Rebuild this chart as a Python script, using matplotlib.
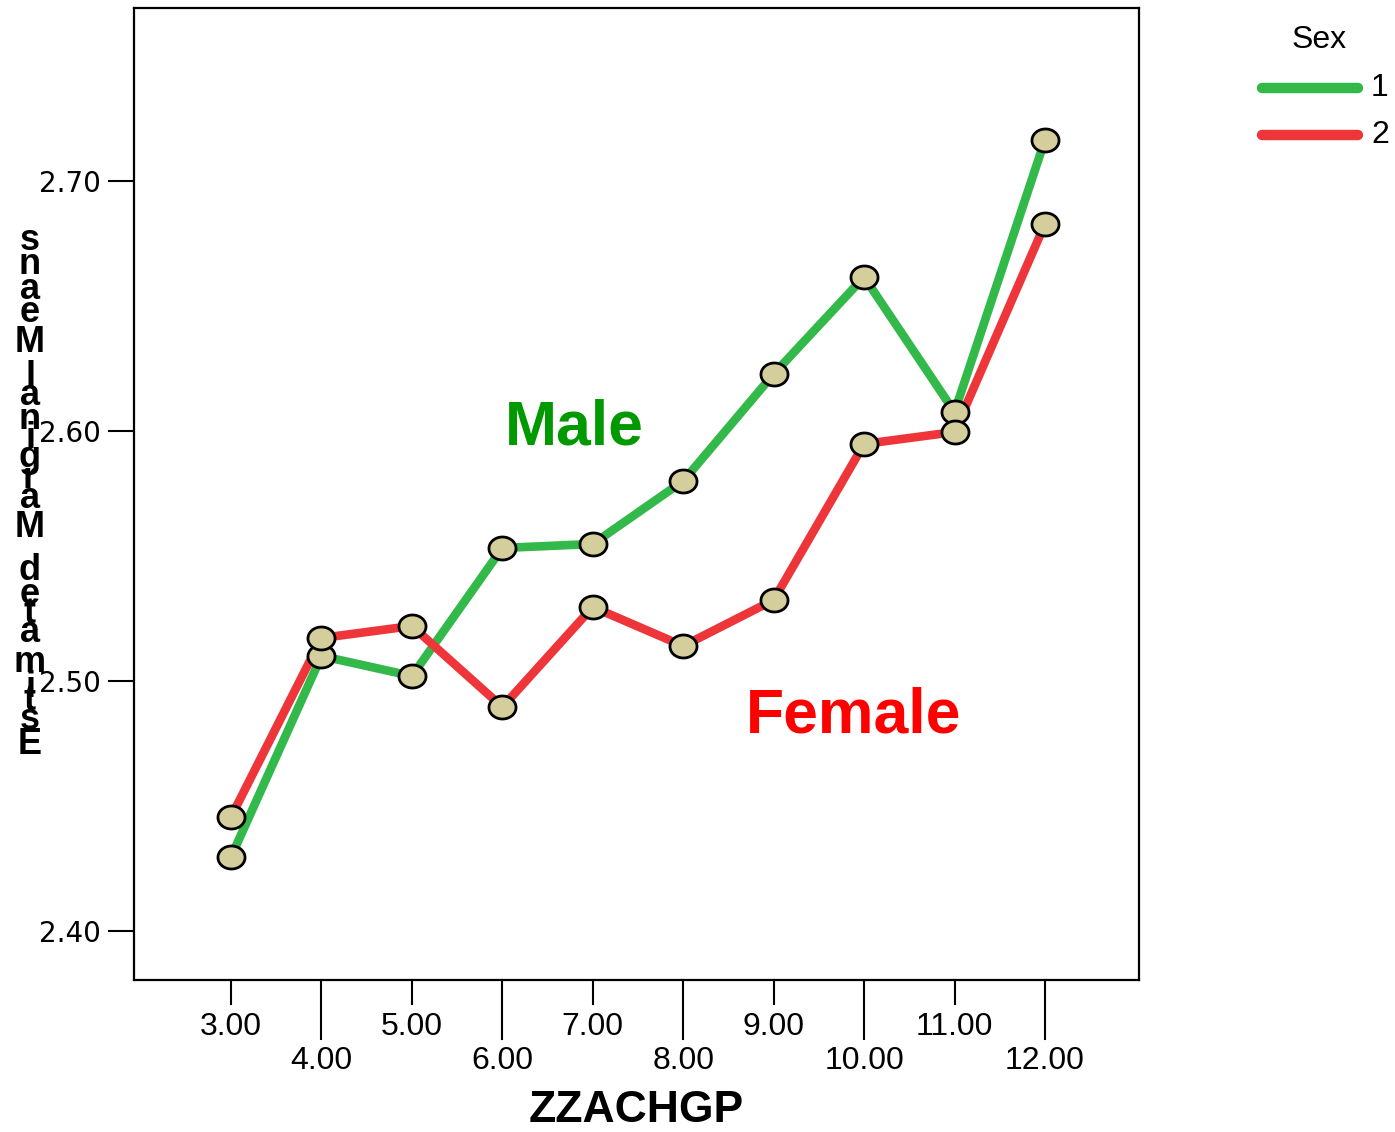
import matplotlib
matplotlib.use("Agg")
import matplotlib.pyplot as plt
import numpy as np
from matplotlib.path import Path
from matplotlib.lines import Line2D

# データ
groups = [3, 4, 5, 6, 7, 8, 9, 10, 11, 12]
tick_labels = ["3.00", "4.00", "5.00", "6.00", "7.00", "8.00", "9.00", "10.00", "11.00", "12.00"]
male = [2.4296, 2.5100, 2.5020, 2.5532, 2.5548, 2.5800, 2.6228, 2.6616, 2.6076, 2.7164]
female = [2.4456, 2.5172, 2.5220, 2.4896, 2.5296, 2.5140, 2.5324, 2.5948, 2.5996, 2.6828]
series_names = ["1", "2"]
y_ticks = [2.40, 2.50, 2.60, 2.70]

green = "#33B84A"
red = "#EE3539"
marker_face = "#D4CE9C"

fig = plt.figure(figsize=(13.95, 11.32), dpi=100)
ax = fig.add_axes([134 / 1395, 1 - 980 / 1132, (1139 - 134) / 1395, (980 - 8) / 1132])

# 楕円マーカー
t = np.linspace(0, 2 * np.pi, 60)
ellipse = Path(np.column_stack([np.cos(t), 0.85 * np.sin(t)]), closed=True)

ax.plot(groups, male, color=green, lw=6.2, solid_joinstyle="round", zorder=2)
ax.plot(groups, female, color=red, lw=6.2, solid_joinstyle="round", zorder=3)
for vals in (male, female):
    ax.plot(groups, vals, ls="none", marker=ellipse, ms=19.5, mfc=marker_face,
            mec="black", mew=2, zorder=4)

ax.set_xlim(1.927, 13.04)
ax.set_ylim(2.3804, 2.7692)

for s in ax.spines.values():
    s.set_linewidth(1.6)

# y軸
ax.set_yticks(y_ticks)
ax.set_yticklabels([f"{v:.2f}" for v in y_ticks], fontsize=20, family="DejaVu Sans")
ax.tick_params(axis="y", length=18.5, width=1.5, pad=5)

# x軸（長短交互の目盛り）
ax.set_xticks(groups)
ax.set_xticklabels([])
ax.tick_params(axis="x", length=0)
trans = ax.get_xaxis_transform()
for i, (g, lab) in enumerate(zip(groups, tick_labels)):
    long_tick = i % 2 == 1
    ax.plot([g, g], [0, -(59 if long_tick else 24) / 972], color="black", lw=1.5,
            transform=trans, clip_on=False)
    ypos = -(81 if long_tick else 47) / 972
    ax.text(g, ypos, lab, transform=trans, ha="center", va="center", fontsize=23,
            family="Liberation Sans")

ax.text(0.5, -131 / 972, "ZZACHGP", transform=ax.transAxes, ha="center", va="center",
        fontsize=32, fontweight="bold", family="Liberation Sans")

# 縦に積み重ねた y ラベル
ylabel = "Estimated Marginal Means"
adv = {"E": .667, "s": .556, "t": .333, "i": .278, "m": .889, "a": .556, "e": .556,
       "d": .611, " ": .278, "M": .833, "r": .389, "g": .611, "n": .611, "l": .278}
widths = [adv[c] for c in ylabel]
centers = np.cumsum(widths) - np.array(widths) / 2
centers = centers - centers[0]
k = (745 - 240) / centers[-1]
for c, cpos in zip(ylabel, centers):
    if c == " ":
        continue
    ypix = 745 - cpos * k
    fig.text(30 / 1395, 1 - ypix / 1132, c, ha="center", va="center", fontsize=26,
             fontweight="bold", family="Liberation Sans")

# 注記
fig.text(574 / 1395, 1 - 428 / 1132, "Male", ha="center", va="center", fontsize=45,
         fontweight="bold", color="#009900", family="Liberation Sans")
fig.text(854 / 1395, 1 - 716 / 1132, "Female", ha="center", va="center", fontsize=45,
         fontweight="bold", color="#FF0000", family="Liberation Sans")

# 凡例
fig.text(1319 / 1395, 1 - 40 / 1132, "Sex", ha="center", va="center", fontsize=23,
         family="Liberation Sans")
for name, col, yp in zip(series_names, [green, red], [88, 135]):
    fig.add_artist(Line2D([1262 / 1395, 1358 / 1395], [1 - yp / 1132] * 2, color=col,
                          lw=7.5, solid_capstyle="round"))
    fig.text(1371 / 1395, 1 - yp / 1132, name, ha="left", va="center", fontsize=23,
             family="Liberation Sans")

fig.savefig("out.png", dpi=100)
